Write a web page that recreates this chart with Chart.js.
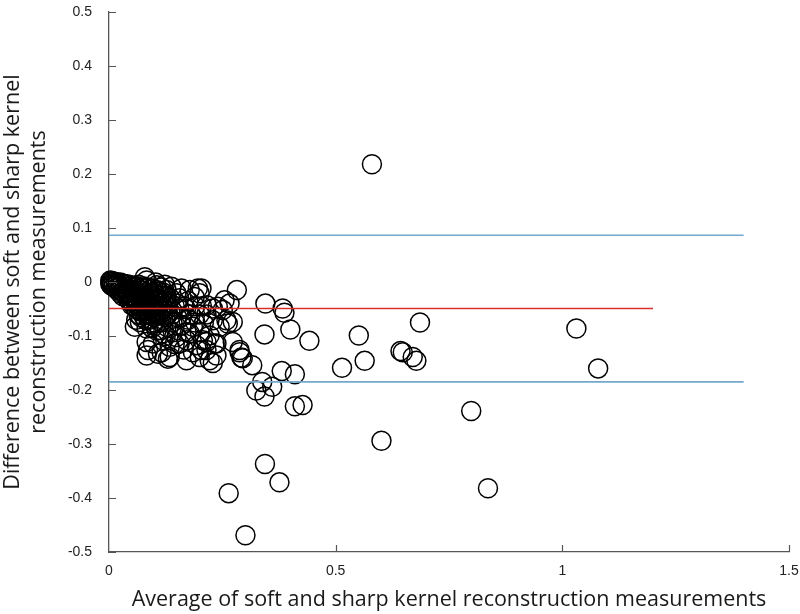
<!DOCTYPE html>
<html>
<head>
<meta charset="utf-8">
<script src="https://cdn.jsdelivr.net/npm/chart.js@4.4.1/dist/chart.umd.min.js"></script>
<style>
  body { margin: 0; background: #fff; }
  #wrap { width: 800px; height: 614px; }
</style>
</head>
<body>
<div id="wrap"><canvas id="baChart" width="800" height="614"></canvas></div>
<script>
// average of the two measurements (x) and their difference (y)
var avgValues = [
  0.580, 1.031, 1.079, 0.799, 0.836, 0.601, 0.344, 0.376, 0.264, 0.301,
  0.345, 0.383, 0.387, 0.343, 0.400, 0.442, 0.551, 0.564, 0.514, 0.686,
  0.643, 0.648, 0.670, 0.678, 0.381, 0.410, 0.316, 0.338, 0.360, 0.325,
  0.343, 0.410, 0.427, 0.282, 0.204,
  0.216, 0.229, 0.240, 0.251, 0.266, 0.209, 0.229, 0.244, 0.262, 0.273,
  0.215, 0.233, 0.204, 0.273, 0.288, 0.292, 0.229, 0.255, 0.259,
  0.083, 0.105, 0.127, 0.138, 0.116, 0.127, 0.160, 0.149, 0.178, 0.196,
  0.200, 0.189, 0.057, 0.068, 0.083, 0.097, 0.112, 0.127, 0.141, 0.160,
  0.171, 0.185, 0.200, 0.083, 0.097, 0.119, 0.134, 0.156, 0.171, 0.193,
  0.207, 0.222, 0.083, 0.108, 0.134, 0.171, 0.200, 0.222, 0.237, 0.079,
  0.103, 0.123, 0.119, 0.149, 0.178, 0.086, 0.116, 0.130, 0.215, 0.237,
  0.288, 0.295,
  0.110, 0.130, 0.150, 0.170, 0.190, 0.140, 0.160, 0.180, 0.120, 0.100,
  0.200, 0.175, 0.155,
  0.085, 0.090, 0.095, 0.100, 0.105, 0.110, 0.115, 0.120, 0.125, 0.130,
  0.135, 0.140, 0.145, 0.150, 0.155, 0.160, 0.165, 0.070, 0.075, 0.065,
  0.080, 0.085, 0.060, 0.095, 0.105, 0.125, 0.145, 0.165, 0.185, 0.175,
  0.190, 0.205, 0.215,
  0.065, 0.075, 0.085, 0.095, 0.105, 0.115, 0.125, 0.070, 0.080, 0.090,
  0.100, 0.110, 0.120, 0.130, 0.085, 0.095, 0.105, 0.115, 0.125, 0.135,
  0.055, 0.065, 0.075, 0.090, 0.100,
  0.003, 0.003, 0.003, 0.006, 0.006, 0.006, 0.010, 0.010, 0.010, 0.015,
  0.015, 0.015, 0.020, 0.020, 0.020, 0.025, 0.025, 0.025, 0.025, 0.030,
  0.030, 0.030, 0.030, 0.035, 0.035, 0.035, 0.040, 0.040, 0.040, 0.040,
  0.045, 0.045, 0.045, 0.045, 0.050, 0.050, 0.050, 0.050, 0.050, 0.055,
  0.055, 0.055, 0.060, 0.060, 0.060, 0.060, 0.060, 0.065, 0.065, 0.065,
  0.065, 0.070, 0.070, 0.070, 0.070, 0.070, 0.075, 0.075, 0.075, 0.080,
  0.080, 0.080, 0.080, 0.080, 0.090, 0.090, 0.090, 0.090, 0.100, 0.100,
  0.100, 0.100, 0.110, 0.110, 0.120, 0.120
];
var diffValues = [
  0.218, -0.086, -0.160, -0.239, -0.382, -0.294, -0.337, -0.371, -0.391, -0.469,
  -0.040, -0.049, -0.057, -0.097, -0.088, -0.109, -0.099, -0.146, -0.159, -0.075,
  -0.128, -0.130, -0.139, -0.146, -0.165, -0.171, -0.154, -0.185, -0.194, -0.201,
  -0.212, -0.230, -0.228, -0.015, -0.012,
  -0.043, -0.049, -0.046, -0.052, -0.040, -0.077, -0.071, -0.083, -0.077, -0.074,
  -0.111, -0.114, -0.126, -0.111, -0.130, -0.140, -0.150, -0.034, -0.071,
  0.003, -0.006, -0.015, -0.009, -0.025, -0.028, -0.012, -0.021, -0.015, -0.012,
  -0.021, -0.028, -0.083, -0.074, -0.086, -0.077, -0.089, -0.083, -0.093, -0.080,
  -0.093, -0.083, -0.093, -0.111, -0.114, -0.108, -0.120, -0.114, -0.108, -0.117,
  -0.108, -0.099, -0.136, -0.133, -0.139, -0.145, -0.139, -0.145, -0.136, 0.009,
  -0.001, -0.005, -0.095, -0.102, -0.095, -0.126, -0.130, -0.142, -0.126, -0.114,
  -0.126, -0.141,
  -0.040, -0.045, -0.040, -0.050, -0.045, -0.060, -0.065, -0.060, -0.055, -0.065,
  -0.060, -0.035, -0.050,
  -0.040, -0.070, -0.025, -0.075, -0.045, -0.060, -0.075, -0.020, -0.045, -0.060,
  -0.030, -0.075, -0.045, -0.065, -0.030, -0.080, -0.045, -0.065, -0.052, -0.060,
  -0.070, -0.060, -0.070, -0.085, -0.090, -0.100, -0.115, -0.125, -0.130, -0.070,
  -0.075, -0.045, -0.060,
  -0.005, -0.008, -0.010, -0.012, -0.015, -0.010, -0.025, -0.030, -0.035, -0.040,
  -0.030, -0.045, -0.050, -0.040, -0.050, -0.055, -0.060, -0.052, -0.065, -0.055,
  -0.045, -0.052, -0.062, -0.068, -0.058,
  0.003, 0.000, -0.004, 0.002, -0.003, -0.007, 0.001, -0.004, -0.009, 0.000,
  -0.006, -0.012, -0.002, -0.009, -0.016, -0.001, -0.008, -0.015, -0.021, -0.003,
  -0.011, -0.019, -0.026, -0.005, -0.014, -0.023, -0.004, -0.012, -0.021, -0.030,
  -0.008, -0.018, -0.027, -0.035, -0.006, -0.015, -0.025, -0.036, -0.043, -0.011,
  -0.021, -0.031, -0.008, -0.019, -0.029, -0.040, -0.049, -0.013, -0.024, -0.035,
  -0.045, -0.010, -0.022, -0.033, -0.046, -0.055, -0.016, -0.028, -0.040, -0.012,
  -0.025, -0.037, -0.050, -0.058, -0.015, -0.030, -0.045, -0.060, -0.020, -0.035,
  -0.050, -0.064, -0.018, -0.030, -0.035, -0.070
];

// mean difference and limits of agreement
var meanDiff = -0.049;
var upperLimit = 0.0865;
var lowerLimit = -0.185;
var meanLineEnd = 1.2;
var limitLineEnd = 1.4;

var xTicks = [0, 0.5, 1, 1.5];
var xTickLabels = ['0', '0.5', '1', '1.5'];
var yTicks = [-0.5, -0.4, -0.3, -0.2, -0.1, 0, 0.1, 0.2, 0.3, 0.4, 0.5];
var yTickLabels = ['-0.5', '-0.4', '-0.3', '-0.2', '-0.1', '0', '0.1', '0.2', '0.3', '0.4', '0.5'];

var points = [];
for (var i = 0; i < avgValues.length; i++) {
  points.push({ x: avgValues[i], y: diffValues[i] });
}

// small tick marks that point into the plot
const innerTicks = {
  id: 'innerTicks',
  afterDraw(chart) {
    const ctx = chart.ctx;
    const xs = chart.scales.x, ys = chart.scales.y;
    const area = chart.chartArea;
    ctx.save();
    ctx.strokeStyle = '#555';
    ctx.lineWidth = 1.2;
    ctx.beginPath();
    xTicks.forEach(function(v) {
      if (v === 0) return;
      const px = Math.round(xs.getPixelForValue(v)) + 0.5;
      ctx.moveTo(px, area.bottom);
      ctx.lineTo(px, area.bottom - 7);
    });
    yTicks.forEach(function(v) {
      const py = Math.round(ys.getPixelForValue(v)) + 0.5;
      ctx.moveTo(area.left, py);
      ctx.lineTo(area.left + 7, py);
    });
    ctx.stroke();
    ctx.restore();
  }
};

const config = {
  type: 'scatter',
  data: {
    datasets: [{
      data: points,
      pointRadius: 9.5,
      pointHoverRadius: 9.5,
      borderWidth: 1.5,
      borderColor: '#000',
      backgroundColor: 'rgba(0,0,0,0)',
      clip: false,
      order: 1
    }, {
      type: 'line',
      data: [{ x: 0, y: upperLimit }, { x: limitLineEnd, y: upperLimit }],
      borderColor: '#72a9cf',
      borderWidth: 1.6,
      pointRadius: 0,
      order: 0
    }, {
      type: 'line',
      data: [{ x: 0, y: meanDiff }, { x: meanLineEnd, y: meanDiff }],
      borderColor: '#d9302c',
      borderWidth: 1.4,
      pointRadius: 0,
      order: 0
    }, {
      type: 'line',
      data: [{ x: 0, y: lowerLimit }, { x: limitLineEnd, y: lowerLimit }],
      borderColor: '#72a9cf',
      borderWidth: 1.6,
      pointRadius: 0,
      order: 0
    }]
  },
  options: {
    responsive: false,
    animation: false,
    layout: { padding: { top: 12, right: 8, left: 0, bottom: 0 } },
    plugins: {
      legend: { display: false },
      tooltip: { enabled: false }
    },
    scales: {
      x: {
        type: 'linear',
        min: 0,
        max: 1.5,
        grid: { display: false, drawTicks: false },
        border: { display: true, color: '#555', width: 1.3 },
        afterBuildTicks: function(scale) {
          scale.ticks = xTicks.map(function(v) { return { value: v }; });
        },
        afterFit: function(scale) {
          scale.height = 62;
          scale.paddingLeft = 0;
          scale.paddingRight = 0;
        },
        ticks: {
          padding: 11,
          color: '#222',
          maxRotation: 0,
          font: { family: 'Liberation Sans, Arial, sans-serif', size: 14 },
          callback: function(value) {
            var k = xTicks.indexOf(value);
            return k >= 0 ? xTickLabels[k] : '';
          }
        },
        title: {
          display: true,
          text: 'Average of soft and sharp kernel reconstruction measurements',
          color: '#1a1a1a',
          font: { family: 'Open Sans, Noto Sans, sans-serif', size: 21.5, lineHeight: 1.2 },
          padding: { top: 0, bottom: 1 }
        }
      },
      y: {
        type: 'linear',
        min: -0.5,
        max: 0.5,
        grid: { display: false, drawTicks: false },
        border: { display: true, color: '#555', width: 1.3 },
        afterBuildTicks: function(scale) {
          scale.ticks = yTicks.map(function(v) { return { value: v }; });
        },
        afterFit: function(scale) {
          scale.width = 109;
          scale.paddingTop = 0;
          scale.paddingBottom = 0;
        },
        ticks: {
          padding: 17,
          color: '#222',
          font: { family: 'Liberation Sans, Arial, sans-serif', size: 14 },
          callback: function(value) {
            var k = yTicks.indexOf(value);
            return k >= 0 ? yTickLabels[k] : '';
          }
        },
        title: {
          display: true,
          text: ['Difference between soft and sharp kernel', 'reconstruction measurements'],
          color: '#1a1a1a',
          font: { family: 'Open Sans, Noto Sans, sans-serif', size: 21.5, lineHeight: 1.2 },
          padding: { top: 0, bottom: 0 }
        }
      }
    }
  },
  plugins: [innerTicks]
};

new Chart(document.getElementById('baChart'), config);
</script>
</body>
</html>
